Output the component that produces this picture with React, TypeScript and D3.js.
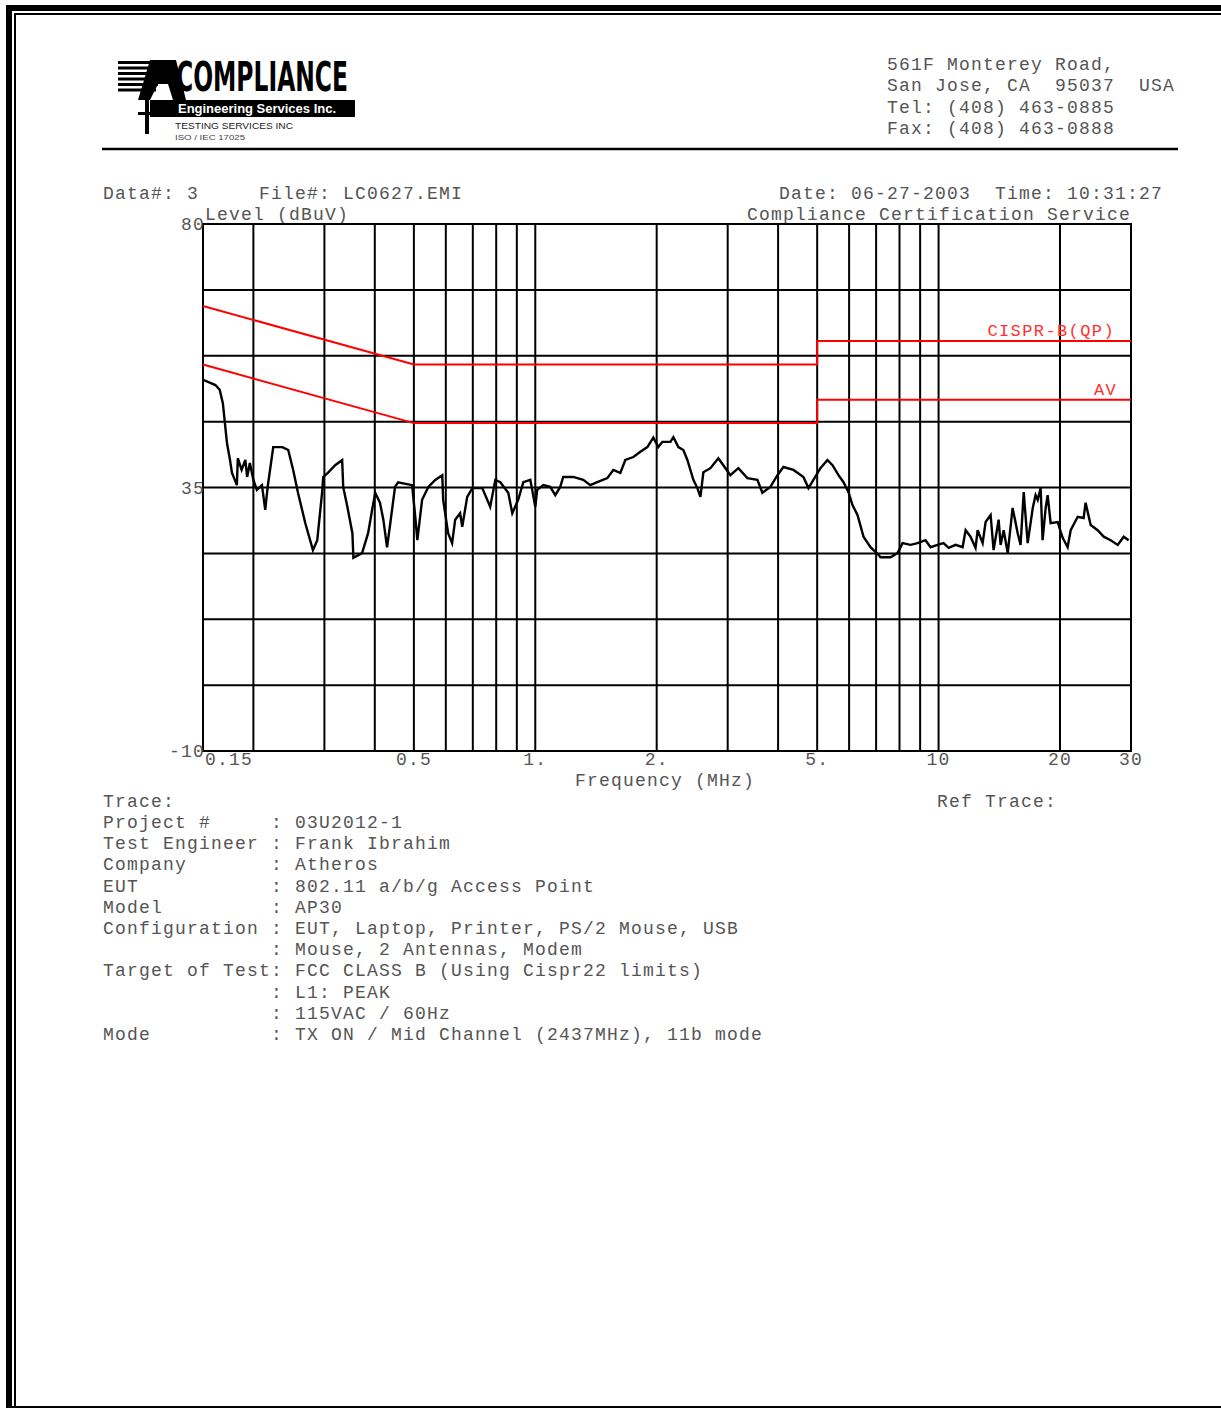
import React from "react";
import * as d3 from "d3";

// ---- Data ----
const FREQ_MHZ = [
  0.150, 0.161, 0.165, 0.168, 0.170, 0.172, 0.175, 0.177, 0.182, 0.183, 0.187, 0.191, 0.193, 0.196,
  0.200, 0.204, 0.210, 0.214, 0.217, 0.224, 0.236, 0.244, 0.251, 0.258, 0.269, 0.281, 0.288, 0.296,
  0.298, 0.306, 0.319, 0.332, 0.334, 0.342, 0.352, 0.354, 0.372, 0.385, 0.394, 0.401, 0.412, 0.420,
  0.429, 0.437, 0.449, 0.457, 0.495, 0.504, 0.510, 0.524, 0.543, 0.565, 0.588, 0.591, 0.608, 0.622,
  0.633, 0.651, 0.659, 0.678, 0.698, 0.739, 0.773, 0.796, 0.819, 0.857, 0.877, 0.907, 0.934, 0.972,
  1.000, 1.011, 1.047, 1.089, 1.121, 1.153, 1.173, 1.242, 1.315, 1.369, 1.425, 1.509, 1.561, 1.625,
  1.672, 1.751, 1.822, 1.896, 1.962, 2.019, 2.066, 2.163, 2.200, 2.264, 2.329, 2.383, 2.424, 2.466,
  2.523, 2.567, 2.611, 2.718, 2.844, 2.926, 3.046, 3.188, 3.357, 3.554, 3.657, 3.828, 3.985, 4.124,
  4.366, 4.623, 4.757, 4.894, 5.094, 5.302, 5.457, 5.647, 5.811, 5.979, 6.117, 6.294, 6.514, 6.780,
  7.096, 7.178, 7.600, 7.911, 8.140, 8.520, 8.868, 9.284, 9.552, 9.940, 10.29, 10.59, 11.02, 11.47,
  11.67, 12.00, 12.35, 12.50, 12.86, 13.08, 13.46, 13.69, 14.09, 14.25, 14.50, 14.84, 15.26, 15.71,
  15.97, 16.26, 16.63, 17.12, 17.40, 17.61, 17.91, 18.11, 18.43, 18.64, 18.96, 19.74, 20.31, 20.89,
  21.26, 22.13, 22.89, 23.15, 23.83, 24.80, 25.67, 26.71, 27.81, 28.77, 29.60,
];
const LEVEL_DBUV = [
  53.4, 52.5, 51.7, 49.4, 46.0, 42.6, 39.7, 37.5, 35.4, 40.0, 38.0, 39.7, 36.8, 39.2,
  36.3, 34.6, 35.4, 31.2, 35.1, 41.9, 41.9, 41.4, 38.0, 34.1, 28.9, 24.3, 26.0, 34.1,
  36.8, 37.5, 38.8, 39.7, 35.1, 31.7, 27.2, 23.0, 23.8, 27.2, 31.2, 34.1, 32.4, 29.5,
  24.8, 28.9, 35.1, 35.9, 35.4, 30.0, 26.0, 32.9, 35.1, 36.3, 37.1, 32.9, 27.2, 25.5,
  29.5, 30.6, 28.3, 33.4, 34.9, 34.9, 31.7, 36.3, 35.9, 34.1, 30.6, 32.9, 35.9, 36.3,
  31.7, 34.6, 35.4, 35.1, 33.7, 35.1, 36.8, 36.8, 36.3, 35.4, 35.9, 36.6, 38.0, 37.5,
  39.7, 40.2, 41.1, 41.9, 43.5, 41.9, 42.8, 42.8, 43.6, 41.9, 41.4, 39.7, 38.0, 36.3,
  34.9, 33.4, 37.6, 38.3, 40.0, 38.8, 37.1, 38.3, 36.6, 36.3, 34.1, 35.1, 37.1, 38.5,
  38.0, 36.8, 34.9, 36.3, 38.3, 39.7, 38.8, 37.1, 35.9, 34.2, 32.0, 30.3, 26.6, 24.8,
  23.5, 23.1, 23.1, 23.8, 25.5, 25.2, 25.5, 26.0, 24.8, 25.2, 25.5, 24.7, 25.2, 24.8,
  27.7, 26.6, 24.7, 27.7, 25.5, 29.1, 30.3, 24.3, 29.5, 25.2, 27.7, 23.8, 31.5, 27.2,
  25.2, 34.2, 25.5, 31.5, 33.7, 32.9, 34.9, 26.0, 31.5, 33.7, 28.9, 29.1, 26.4, 24.8,
  27.7, 30.0, 29.8, 32.4, 28.6, 27.7, 26.6, 26.0, 25.2, 26.6, 26.0,
];

const LIMIT_FREQ = [0.15, 0.5, 5, 5, 30];
const QP_LIMIT = [66, 56, 56, 60, 60];
const AV_LIMIT = [56, 46, 46, 50, 50];

const GRID_FREQ = [0.2, 0.3, 0.4, 0.5, 0.6, 0.7, 0.8, 0.9, 1, 2, 3, 4, 5, 6, 7, 8, 9, 10, 20];
const X_TICK_VALUES = [0.15, 0.5, 1, 2, 5, 10, 20, 30];
const X_TICK_LABELS = ["0.15", "0.5", "1.", "2.", "5.", "10", "20", "30"];
const Y_TICK_VALUES = [80, 35, -10];

const ADDRESS_LINES = [
  "561F Monterey Road,",
  "San Jose, CA  95037  USA",
  "Tel: (408) 463-0885",
  "Fax: (408) 463-0888",
];
const INFO_LABELS = [
  "Project #", "Test Engineer", "Company", "EUT", "Model", "Configuration", "",
  "Target of Test", "", "", "Mode",
];
const INFO_VALUES = [
  "03U2012-1", "Frank Ibrahim", "Atheros", "802.11 a/b/g Access Point", "AP30",
  "EUT, Laptop, Printer, PS/2 Mouse, USB", "Mouse, 2 Antennas, Modem",
  "FCC CLASS B (Using Cispr22 limits)", "L1: PEAK", "115VAC / 60Hz",
  "TX ON / Mid Channel (2437MHz), 11b mode",
];

// ---- Layout ----
const W = 1221;
const H = 1408;
const PL = 203, PR = 1131, PT = 224, PB = 751;
const CH = 12; // char advance
const MONO: React.CSSProperties = {
  fontFamily: "'Liberation Mono', 'DejaVu Sans Mono', monospace",
  fontSize: 18,
  letterSpacing: 1.2,
  whiteSpace: "pre",
};
const TXT = "#555";

export default function App() {
  const x = d3.scaleLog().domain([0.15, 30]).range([PL, PR]);
  const y = d3.scaleLinear().domain([-10, 80]).range([PB, PT]);
  const hGrid = d3.range(-10, 80.001, 11.25);

  const trace = d3
    .line<number>()
    .x((_, i) => x(FREQ_MHZ[i]))
    .y((d) => y(d))(LEVEL_DBUV) as string;
  const limitLine = (vals: number[]) =>
    d3
      .line<number>()
      .x((_, i) => x(LIMIT_FREQ[i]))
      .y((d) => y(d))(vals) as string;

  const T = (s: string, px: number, py: number, extra: React.CSSProperties = {}, fill = TXT) => (
    <text x={px} y={py} fill={fill} style={{ ...MONO, ...extra }}>
      {s}
    </text>
  );

  return (
    <svg
      width={W}
      height={H}
      viewBox={`0 0 ${W} ${H}`}
      style={{ position: "absolute", left: 0, top: 0, background: "#fff" }}
    >
      <rect x={0} y={0} width={W} height={H} fill="#fff" />
      {/* page border */}
      <path d={`M9,${H + 5} V8 H${W + 5}`} fill="none" stroke="#000" strokeWidth={6} />
      <path d={`M15,${H + 5} V14 H${W + 5}`} fill="none" stroke="#000" strokeWidth={2} />
      <path d={`M9,${H - 1} H${W + 5}`} fill="none" stroke="#000" strokeWidth={2} />

      {/* logo */}
      <g>
        {d3.range(6).map((i) => (
          <rect key={i} x={118} y={61 + i * 5.5} width={48 - i * 2} height={3} fill="#000" />
        ))}
        <polygon points="150,60 176,60 186,100 173,100 168,84 158,84 150,100 138,100" fill="#000" />
        <rect x={145} y={98} width={4} height={36} fill="#000" />
        <rect x={138} y={112} width={18} height={3} fill="#000" />
        <text
          x={176}
          y={91}
          textLength={172}
          lengthAdjust="spacingAndGlyphs"
          style={{ fontFamily: "'Liberation Sans Narrow', 'DejaVu Sans Condensed', 'Liberation Sans', sans-serif", fontWeight: 700, fontSize: 40 }}
          fill="#000"
        >
          COMPLIANCE
        </text>
        <rect x={150} y={100} width={205} height={17} fill="#000" />
        <text x={178} y={113} textLength={158} lengthAdjust="spacingAndGlyphs" fill="#fff"
          style={{ fontFamily: "'Liberation Sans', sans-serif", fontWeight: 700, fontSize: 12 }}>
          Engineering Services Inc.
        </text>
        <text x={175} y={129} textLength={118} lengthAdjust="spacingAndGlyphs" fill="#222"
          style={{ fontFamily: "'Liberation Sans', sans-serif", fontSize: 9 }}>
          TESTING  SERVICES  INC
        </text>
        <text x={175} y={140} textLength={70} lengthAdjust="spacingAndGlyphs" fill="#444"
          style={{ fontFamily: "'Liberation Sans', sans-serif", fontSize: 7 }}>
          ISO / IEC 17025
        </text>
      </g>

      {/* address */}
      {ADDRESS_LINES.map((s, i) => (
        <React.Fragment key={s}>{T(s, 887, 70 + i * 21.3)}</React.Fragment>
      ))}
      <line x1={102} x2={1178} y1={149} y2={149} stroke="#000" strokeWidth={2.5} />

      {/* header info */}
      {T("Data#: 3", 103, 199)}
      {T("File#: LC0627.EMI", 259, 199)}
      {T("Date: 06-27-2003  Time: 10:31:27", 779, 199)}
      {T("Level (dBuV)", 205, 220)}
      {T("Compliance Certification Service", PR - 32 * CH, 220)}

      {/* grid */}
      <g stroke="#000" strokeWidth={2} fill="none">
        {hGrid.map((v) => (
          <line key={v} x1={PL} x2={PR} y1={y(v)} y2={y(v)} />
        ))}
        {GRID_FREQ.map((f) => (
          <line key={f} x1={x(f)} x2={x(f)} y1={PT} y2={PB} />
        ))}
        <rect x={PL} y={PT} width={PR - PL} height={PB - PT} />
      </g>

      {/* limits */}
      <path d={limitLine(QP_LIMIT)} fill="none" stroke="#ff0000" strokeWidth={2} />
      <path d={limitLine(AV_LIMIT)} fill="none" stroke="#ff0000" strokeWidth={2} />
      {T("CISPR-B(QP)", 1115 - 11 * 11.6, 336, { fontSize: 17, letterSpacing: 1.4 }, "#ff3030")}
      {T("AV", 1118 - 2 * 12, 395, { fontSize: 17, letterSpacing: 1.4 }, "#ff3030")}

      {/* trace */}
      <path d={trace} fill="none" stroke="#000" strokeWidth={2.4} strokeLinejoin="miter" />

      {/* y tick labels */}
      {Y_TICK_VALUES.map((v) => {
        const s = String(v);
        return <React.Fragment key={v}>{T(s, 205 - s.length * CH, y(v) + 6)}</React.Fragment>;
      })}

      {/* x tick labels */}
      {X_TICK_VALUES.map((v, i) => {
        const s = X_TICK_LABELS[i];
        const px = i === 0 ? PL + 2 : x(v) - (s.length * CH) / 2;
        return <React.Fragment key={v}>{T(s, px, 765)}</React.Fragment>;
      })}
      {T("Frequency (MHz)", 665 - 7.5 * CH, 786)}

      {/* bottom info */}
      {T("Trace:", 103, 807)}
      {T("Ref Trace:", 937, 807)}
      {INFO_VALUES.map((v, i) => (
        <React.Fragment key={i}>
          {INFO_LABELS[i] ? T(INFO_LABELS[i], 103, 828 + i * 21.2) : null}
          {T(": " + v, 271, 828 + i * 21.2)}
        </React.Fragment>
      ))}
    </svg>
  );
}
